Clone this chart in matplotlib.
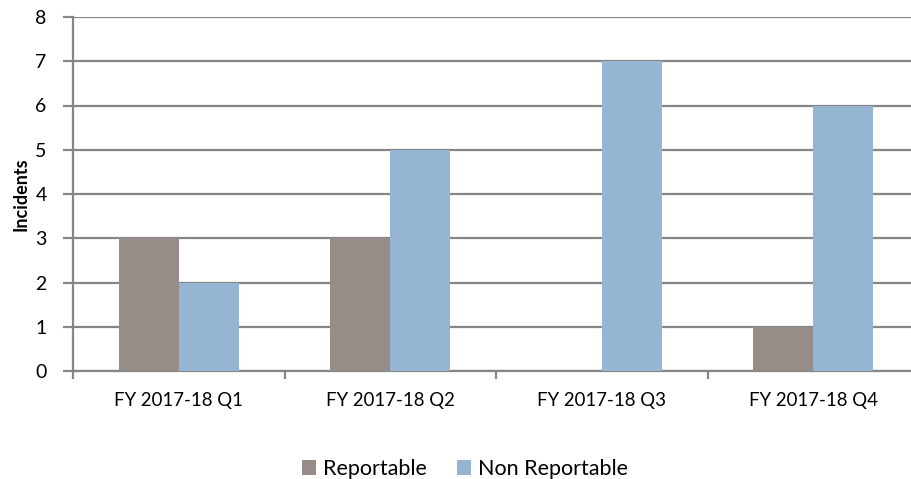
import matplotlib.pyplot as plt
import numpy as np

plt.rcParams['font.family'] = ['Lato', 'DejaVu Sans']

quarters = ['FY 2017-18 Q1', 'FY 2017-18 Q2', 'FY 2017-18 Q3', 'FY 2017-18 Q4']
reportable = [3, 3, 0, 1]
non_reportable = [2, 5, 7, 6]

col_rep = '#968d89'
col_non = '#95b5d3'
grid_col = '#868686'

fig = plt.figure(figsize=(9.11, 4.79), dpi=100)
ax = fig.add_axes([73 / 911, 1 - 371 / 479, 846 / 911, 354 / 479])

x = np.arange(len(quarters))
w = 0.284
ax.bar(x - w / 2, reportable, w, color=col_rep, label='Reportable', zorder=3)
ax.bar(x + w / 2, non_reportable, w, color=col_non, label='Non Reportable', zorder=3)

ax.set_xlim(-0.5, len(quarters) - 0.5)
ax.set_ylim(0, 8)
ax.set_yticks(range(0, 9))
ax.yaxis.grid(True, color=grid_col, linewidth=1.6, zorder=0)
ax.set_axisbelow(True)

ax.set_xticks(x)
ax.set_xticklabels(quarters, fontsize=13.4)
ax.set_xticks(np.arange(-0.5, len(quarters), 1), minor=True)
ax.tick_params(axis='x', which='major', length=0, pad=15)
ax.tick_params(axis='x', which='minor', length=6, width=1.6, color=grid_col)
ax.tick_params(axis='y', length=7, width=1.6, color=grid_col, labelsize=14, pad=12)

for s in ['top', 'right']:
    ax.spines[s].set_visible(False)
for s in ['left', 'bottom']:
    ax.spines[s].set_color(grid_col)
    ax.spines[s].set_linewidth(1.6)

ax.set_ylabel('Incidents', fontsize=13, fontweight='bold', labelpad=4)

fig.legend(loc='center', bbox_to_anchor=(465 / 911, 1 - 469 / 479), ncol=2,
           frameon=False, fontsize=15.5, handlelength=0.65, handleheight=0.65,
           handletextpad=0.33, columnspacing=1.4)

fig.savefig('out.png', dpi=100)
